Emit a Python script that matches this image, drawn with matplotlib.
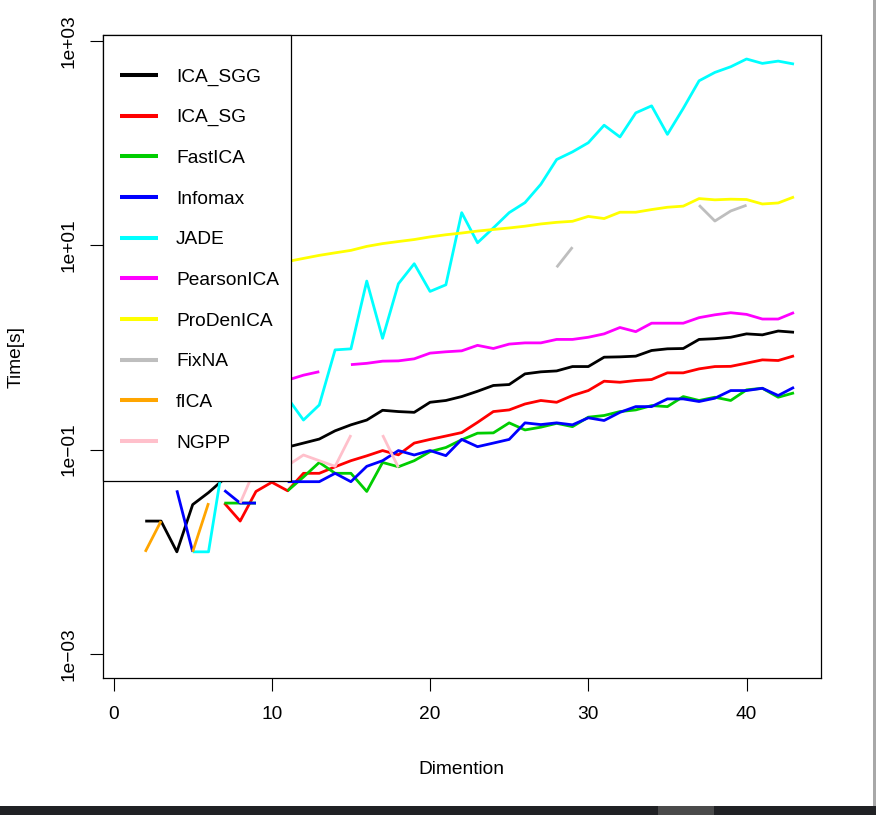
import numpy as np
import matplotlib
matplotlib.use("Agg")
import matplotlib.pyplot as plt
from matplotlib.patches import Rectangle
from matplotlib.lines import Line2D

nan = np.nan
dims = list(range(1, 44))

ica_sgg = [nan, 0.02, 0.02, 0.01, 0.029, 0.038, 0.052, nan, nan, 0.095,
           0.106, 0.116, 0.127, 0.153, 0.175, 0.195, 0.243, 0.236, 0.232, 0.291,
           0.303, 0.331, 0.373, 0.425, 0.434, 0.552, 0.578, 0.590, 0.651, 0.651,
           0.804, 0.81, 0.823, 0.935, 0.971, 0.978, 1.20, 1.22, 1.26, 1.36,
           1.33, 1.45, 1.41]
ica_sg = [nan, nan, nan, nan, nan, nan, 0.03, 0.02, 0.039, 0.048,
          0.0396, 0.0587, 0.0587, 0.068, 0.078, 0.087, 0.098, 0.089, 0.116, 0.126,
          0.136, 0.147, 0.185, 0.236, 0.245, 0.280, 0.303, 0.291, 0.339, 0.379,
          0.468, 0.457, 0.475, 0.486, 0.565, 0.565, 0.618, 0.651, 0.654, 0.703,
          0.757, 0.746, 0.829]
fastica = [nan, nan, nan, nan, nan, nan, 0.03, 0.03, 0.03, nan,
           0.0396, 0.054, 0.075, 0.0587, 0.0587, 0.039, 0.075, 0.068, 0.078, 0.0957,
           0.105, 0.125, 0.145, 0.146, 0.183, 0.156, 0.166, 0.181, 0.168, 0.208,
           0.216, 0.236, 0.245, 0.270, 0.264, 0.331, 0.303, 0.326, 0.303, 0.385,
           0.399, 0.326, 0.360]
infomax = [nan, nan, nan, 0.04, 0.01, nan, 0.04, 0.03, 0.03, nan,
           0.0486, 0.0486, 0.0486, 0.0587, 0.0486, 0.0687, 0.078, 0.098, 0.0887, 0.098,
           0.0874, 0.126, 0.107, 0.116, 0.126, 0.183, 0.176, 0.183, 0.175, 0.205,
           0.193, 0.232, 0.264, 0.264, 0.314, 0.314, 0.296, 0.319, 0.379, 0.379,
           0.399, 0.339, 0.408]
jade = [nan, nan, nan, nan, 0.01, 0.01, 0.09, nan, nan, 0.5,
        0.32, 0.195, 0.274, 0.948, 0.97, 4.47, 1.23, 4.21, 6.61, 3.54,
        4.11, 20.9, 10.6, 14.8, 20.9, 26.2, 39.6, 69.2, 82.2, 101,
        150, 115, 198, 232, 122, 219, 408, 493, 560, 667,
        604, 636, 595]
pearsonica = [nan, nan, nan, nan, nan, nan, nan, nan, nan, 0.43,
              0.48, 0.536, 0.58, nan, 0.68, 0.70, 0.735, 0.74, 0.775, 0.881,
              0.908, 0.928, 1.05, 0.978, 1.08, 1.11, 1.11, 1.20, 1.20, 1.26,
              1.36, 1.57, 1.43, 1.73, 1.73, 1.73, 1.96, 2.09, 2.19, 2.11,
              1.90, 1.90, 2.20]
prodenica = [nan, nan, nan, nan, nan, nan, nan, nan, nan, 6.4,
             6.95, 7.45, 7.98, 8.45, 8.93, 9.77, 10.4, 10.9, 11.4, 12.1,
             12.7, 13.2, 13.8, 14.3, 14.8, 15.4, 16.2, 16.8, 17.2, 19.2,
             18.3, 21.1, 21.1, 22.4, 23.6, 24.2, 28.7, 27.9, 28.3, 28.1,
             25.4, 26.0, 29.8]
fixna = [nan] * 27 + [6.1, 9.6] + [nan] * 7 + [24.7, 17.3, 21.7, 24.7] + [nan] * 3
fica = [nan, 0.01, 0.02, nan, 0.01, 0.03] + [nan] * 37
ngpp = [nan] * 7 + [0.03, 0.068, 0.08, 0.07, 0.0887, 0.078, 0.0687, 0.139, nan,
                    0.139, 0.067] + [nan] * 25

labels = ["ICA_SGG", "ICA_SG", "FastICA", "Infomax", "JADE", "PearsonICA",
          "ProDenICA", "FixNA", "fICA", "NGPP"]
colors = ["#000000", "#FF0000", "#00CD00", "#0000FF", "#00FFFF", "#FF00FF",
          "#FFFF00", "#BEBEBE", "#FFA500", "#FFC0CB"]
series = [ica_sgg, ica_sg, fastica, infomax, jade, pearsonica, prodenica,
          fixna, fica, ngpp]

xticks = [0, 10, 20, 30, 40]
yticks = [1e-3, 1e-1, 1e1, 1e3]
yticklabels = ["1e\u221203", "1e\u221201", "1e+01", "1e+03"]

plt.rcParams['font.family'] = ['Liberation Sans', 'DejaVu Sans']
FS = 13.8

W, H = 876, 815
fig = plt.figure(figsize=(W / 100, H / 100), dpi=100)
fig.patch.set_facecolor("white")

L, R, T, B = 102.8, 820.6, 35.0, 678.0
ax = fig.add_axes([L / W, (H - B) / H, (R - L) / W, (B - T) / H])

for ys, c in zip(series, colors):
    ax.plot(dims, ys, color=c, lw=2.0, solid_capstyle='butt',
            solid_joinstyle='round', zorder=2)

ax.set_yscale('log')
ax.set_xlim(-0.68, 44.68)
ax.set_ylim(10 ** -3.235, 10 ** 3.059)
ax.set_xticks(xticks)
ax.set_xticklabels([str(v) for v in xticks], fontsize=FS)
ax.set_yticks(yticks)
ax.set_yticklabels(yticklabels, fontsize=FS, rotation=90, va='center')
ax.yaxis.set_minor_locator(matplotlib.ticker.NullLocator())
ax.tick_params(axis='both', direction='out', length=9.4, width=0.8, colors='black')
ax.tick_params(axis='x', pad=11.0)
ax.tick_params(axis='y', pad=9.0)
for s in ax.spines.values():
    s.set_linewidth(0.9)
    s.set_color('black')

# legend box (R-style, opaque)
def px2ax(px, py):
    return (px - L) / (R - L), (B - py) / (B - T)

lx0, ly0 = px2ax(L, 481.0)
lx1, ly1 = px2ax(291.0, T)
ax.add_patch(Rectangle((lx0, ly0), lx1 - lx0, ly1 - ly0, transform=ax.transAxes,
                       facecolor='white', edgecolor='black', lw=0.9, zorder=5,
                       clip_on=False))
row0, step = 75.0, 40.67
for i, (lab, c) in enumerate(zip(labels, colors)):
    py = row0 + i * step
    hx0, hy = px2ax(120.0, py)
    hx1, _ = px2ax(158.0, py)
    ax.add_line(Line2D([hx0, hx1], [hy, hy], transform=ax.transAxes, color=c,
                       lw=2.9, solid_capstyle='butt', zorder=6, clip_on=False))
    tx, _ = px2ax(176.0, py)
    ax.text(tx, hy, lab, transform=ax.transAxes, fontsize=FS, va='center_baseline',
            ha='left', zorder=7, color='black')

fig.text(461.5 / W, 1 - 774 / H, "Dimention", fontsize=FS, ha='center', va='baseline')
fig.text(16 / W, 1 - 357 / H, "Time[s]", fontsize=FS, ha='center', va='center',
         rotation=90)

# screenshot frame strips
fig.patches.append(Rectangle((0, 0), 1, 9 / H, transform=fig.transFigure,
                             facecolor='#202124', edgecolor='none', zorder=0))
fig.patches.append(Rectangle((658 / W, 0), 56 / W, 9 / H, transform=fig.transFigure,
                             facecolor='#4a4a4a', edgecolor='none', zorder=1))
fig.patches.append(Rectangle((873 / W, 9 / H), 3 / W, 1 - 9 / H, transform=fig.transFigure,
                             facecolor='#a8a8a8', edgecolor='none', zorder=0))

fig.savefig("out.png", dpi=100)
